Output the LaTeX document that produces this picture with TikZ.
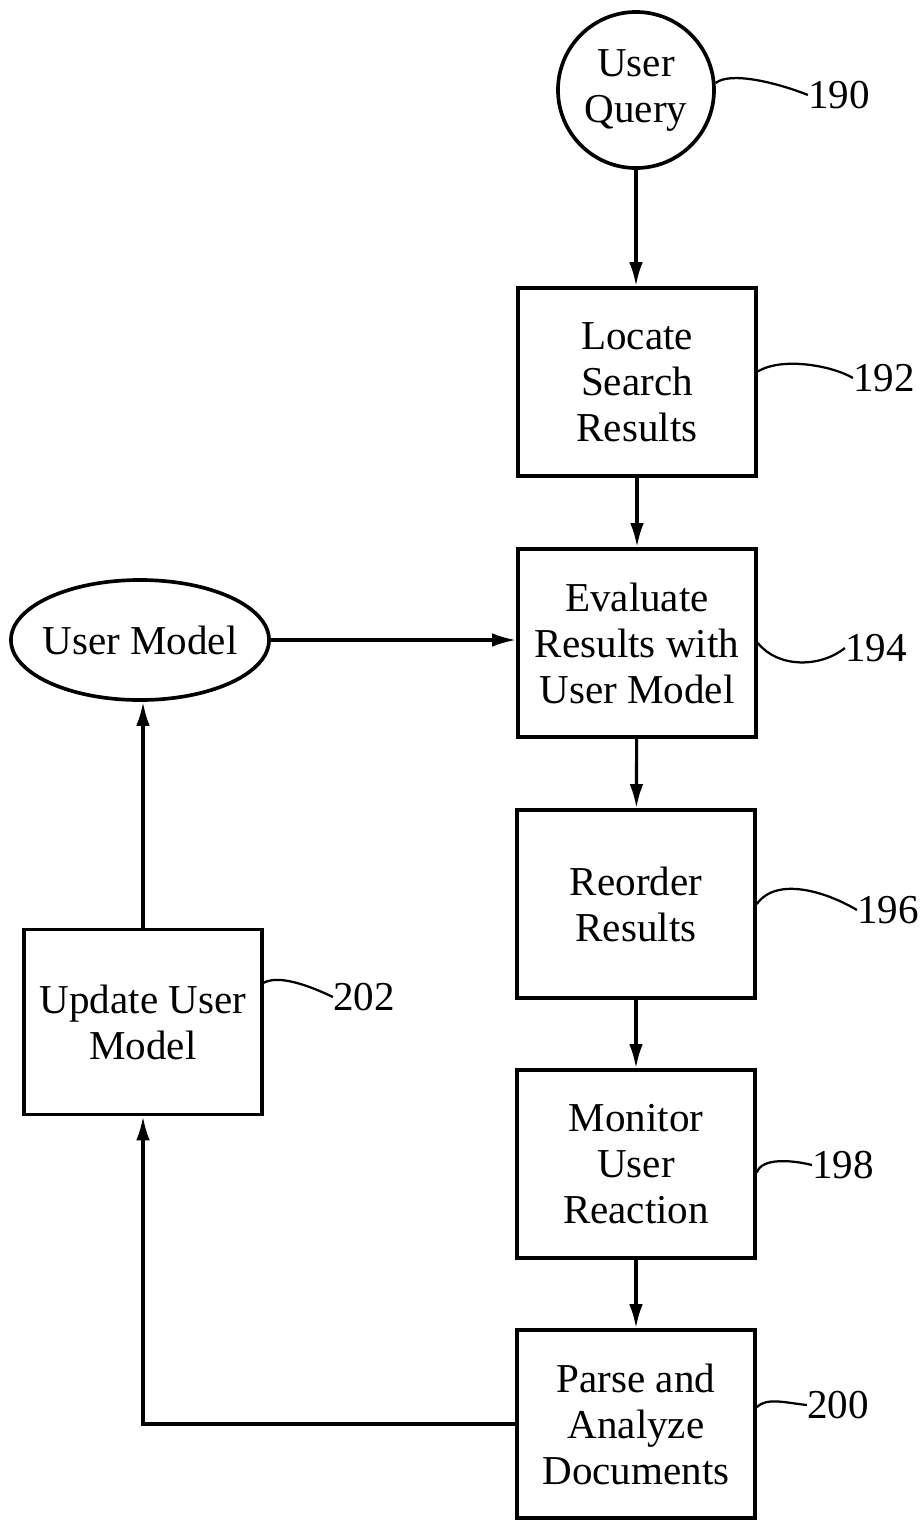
\documentclass[tikz,border=0pt]{standalone}
\usepackage{fontspec}
\setmainfont{Liberation Serif}
\usetikzlibrary{arrows.meta,shapes.geometric}

\begin{document}
\begin{tikzpicture}[x=0.025cm,y=-0.025cm,
  every node/.style={font=\fontsize{29.2}{32.7}\selectfont},
  stepbox/.style={draw,line width=2.6pt,minimum width=5.95cm,minimum height=4.7cm,align=center,inner sep=0pt},
  flow/.style={line width=2.2pt,-{Latex[length=0.6cm,width=0.34cm]}},
  lead/.style={line width=1.6pt},
  num/.style={inner sep=0pt}]
\useasboundingbox (0,0) rectangle (920,1520);

\node[draw,circle,line width=2.6pt,minimum size=3.9cm,align=center,inner sep=0pt] (query) at (636,90) {User\\Query};
\node[stepbox] (locate) at (637,382) {Locate\\Search\\Results};
\node[stepbox] (evaluate) at (637,643) {Evaluate\\Results with\\User Model};
\node[stepbox] (reorder) at (636,904) {Reorder\\Results};
\node[stepbox] (monitor) at (636,1164) {Monitor\\User\\Reaction};
\node[stepbox] (parse) at (636,1424) {Parse and\\Analyze\\Documents};
\node[stepbox,minimum height=4.625cm] (update) at (143,1022) {Update User\\Model};
\node[draw,ellipse,line width=2.6pt,minimum width=6.45cm,minimum height=3cm,inner ysep=0pt,inner xsep=-5pt] (usermodel) at (140,640) {User Model};

\draw[flow] (query.south) -- (query.south |- locate.north);
\draw[flow] (locate) -- (evaluate);
\draw[flow] (evaluate) -- (reorder);
\draw[flow] (reorder) -- (monitor);
\draw[flow] (monitor) -- (parse);
\draw[flow] (usermodel.east) -- (usermodel.east -| evaluate.west);
\draw[flow] (parse.west) -| (update.south);
\draw[flow] (update.north) -- (update.north |- usermodel.south);

\node[num] (l190) at (839,95) {190};
\node[num] (l192) at (884,378) {192};
\node[num] (l194) at (876,648) {194};
\node[num] (l196) at (888,910) {196};
\node[num] (l198) at (843,1165) {198};
\node[num] (l200) at (838,1405) {200};
\node[num] (l202) at (364,997) {202};

\draw[lead] (query.5) .. controls +(15,-12) and +(-30,-12) .. (l190.west);
\draw[lead] (locate.5) .. controls +(25,-15) and +(-20,-12) .. (l192.west);
\draw[lead] (evaluate.east) .. controls +(20,25) and +(-25,20) .. (l194.west);
\draw[lead] (reorder.east) .. controls +(20,-28) and +(-30,-18) .. (l196.west);
\draw[lead] (monitor.-4) .. controls +(5,-15) and +(-20,-5) .. (l198.west);
\draw[lead] (parse.8) .. controls +(10,-10) and +(-20,-2) .. (l200.west);
\draw[lead] (update.18) .. controls +(15,-8) and +(-25,-12) .. (l202.west);
\end{tikzpicture}
\end{document}
